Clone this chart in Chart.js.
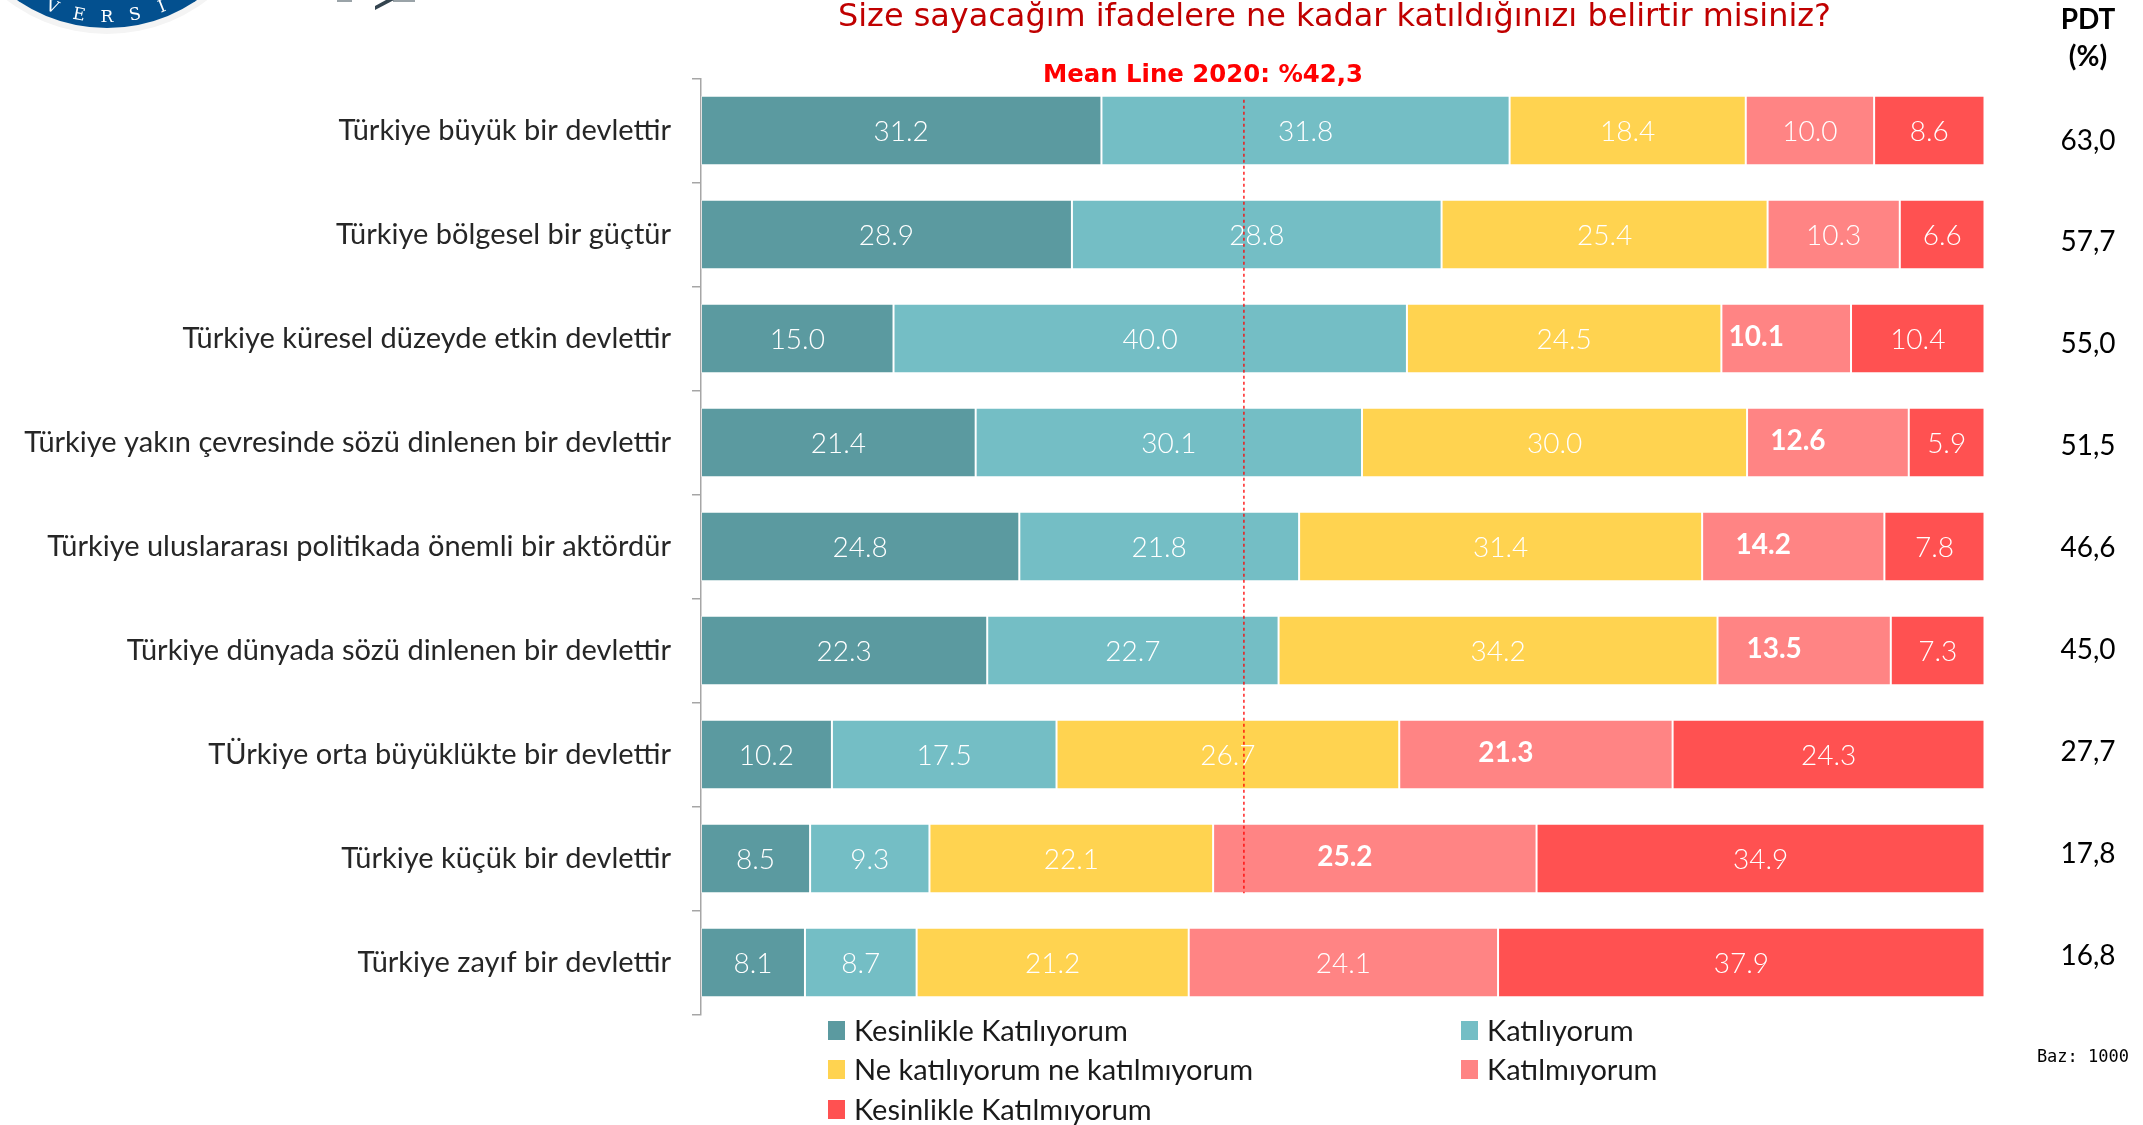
<!DOCTYPE html>
<html>
<head>
<meta charset="utf-8">
<script src="https://cdn.jsdelivr.net/npm/chart.js@4.4.0/dist/chart.umd.min.js"></script>
<style>
  html, body { margin: 0; padding: 0; background: #fff; }
  canvas { display: block; }
</style>
</head>
<body>
<canvas id="chart_1" width="2143" height="1125"></canvas>
<script>
const categories = [
  'Türkiye büyük bir devlettir',
  'Türkiye bölgesel bir güçtür',
  'Türkiye küresel düzeyde etkin devlettir',
  'Türkiye yakın çevresinde sözü dinlenen bir devlettir',
  'Türkiye uluslararası politikada önemli bir aktördür',
  'Türkiye dünyada sözü dinlenen bir devlettir',
  'TÜrkiye orta büyüklükte bir devlettir',
  'Türkiye küçük bir devlettir',
  'Türkiye zayıf bir devlettir'
];
const seriesLabels = [
  'Kesinlikle Katılıyorum',
  'Katılıyorum',
  'Ne katılıyorum ne katılmıyorum',
  'Katılmıyorum',
  'Kesinlikle Katılmıyorum'
];
const kesinlikleKatiliyorum = [31.2, 28.9, 15.0, 21.4, 24.8, 22.3, 10.2, 8.5, 8.1];
const katiliyorum = [31.8, 28.8, 40.0, 30.1, 21.8, 22.7, 17.5, 9.3, 8.7];
const neKatiliyorum = [18.4, 25.4, 24.5, 30.0, 31.4, 34.2, 26.7, 22.1, 21.2];
const katilmiyorum = [10.0, 10.3, 10.1, 12.6, 14.2, 13.5, 21.3, 25.2, 24.1];
const kesinlikleKatilmiyorum = [8.6, 6.6, 10.4, 5.9, 7.8, 7.3, 24.3, 34.9, 37.9];
const pdtValues = ['63,0', '57,7', '55,0', '51,5', '46,6', '45,0', '27,7', '17,8', '16,8'];
const meanValue = 42.3;
const meanLabel = 'Mean Line 2020: %42,3';
const titleText = 'Size sayacağım ifadelere ne kadar katıldığınızı belirtir misiniz?';
const bazText = 'Baz: 1000';

const colors = ['#5B9AA0', '#74BEC5', '#FFD350', '#FF8484', '#FF5151'];
const FONT = 'Lato, "Open Sans", sans-serif';

// draws text squeezed/stretched to a given width
function fitText(ctx, text, x, y, width, font, color) {
  ctx.save();
  ctx.font = font;
  ctx.fillStyle = color;
  ctx.textAlign = 'left';
  ctx.textBaseline = 'alphabetic';
  const w = ctx.measureText(text).width;
  ctx.translate(x, y);
  ctx.scale(width / w, 1);
  ctx.fillText(text, 0, 0);
  ctx.restore();
}

const pagePlugin = {
  id: 'page',
  beforeDraw(chart) {
    const ctx = chart.ctx;
    ctx.save();
    ctx.fillStyle = '#fff';
    ctx.fillRect(0, 0, chart.width, chart.height);

    // university seal, cut by the top edge
    const cx = 107, cy = -131;
    ctx.beginPath();
    ctx.arc(cx, cy, 165, 0, Math.PI * 2);
    ctx.fillStyle = '#f4f4f4';
    ctx.fill();
    ctx.beginPath();
    ctx.arc(cx, cy, 159, 0, Math.PI * 2);
    ctx.fillStyle = '#03508F';
    ctx.fill();
    const word = 'UNIVERSITY';
    ctx.fillStyle = '#fff';
    ctx.font = '17px "DejaVu Serif", serif';
    ctx.textAlign = 'center';
    ctx.textBaseline = 'middle';
    for (let i = 0; i < word.length; i++) {
      const th = (5 - i) * 0.19;
      const x = cx - 149 * Math.sin(th);
      const y = cy + 149 * Math.cos(th);
      ctx.save();
      ctx.translate(x, y);
      ctx.rotate(th);
      ctx.fillText(word[i], 0, 0);
      ctx.restore();
    }
    // second logo fragment
    ctx.fillStyle = '#9aa3a8';
    ctx.fillRect(337, 0, 15, 2);
    ctx.fillRect(393, 0, 22, 2);
    ctx.fillStyle = '#34444f';
    ctx.beginPath();
    ctx.moveTo(375, 6); ctx.lineTo(386, 0); ctx.lineTo(394, 0); ctx.lineTo(375, 10);
    ctx.closePath();
    ctx.fill();
    ctx.restore();
  },
  afterDatasetsDraw(chart) {
    const ctx = chart.ctx;
    const xs = chart.scales.x;

    // values inside the segments
    ctx.save();
    ctx.fillStyle = '#fff';
    ctx.textAlign = 'center';
    ctx.textBaseline = 'middle';
    chart.data.datasets.forEach((ds, di) => {
      chart.getDatasetMeta(di).data.forEach((bar, i) => {
        const bold = di === 3 && i >= 2 && i <= 7;
        ctx.font = (bold ? '700 ' : '300 ') + '28px ' + FONT;
        const cxm = (bar.x + bar.base) / 2 + (bold ? -30 : 0);
        ctx.fillText(ds.data[i].toFixed(1), cxm, bar.y + (bold ? -2 : 1));
      });
    });
    ctx.restore();

    // mean line
    const bars = chart.getDatasetMeta(0).data;
    const mx = xs.getPixelForValue(meanValue);
    ctx.save();
    ctx.strokeStyle = '#FF0000';
    ctx.lineWidth = 1.3;
    ctx.setLineDash([3, 3]);
    ctx.beginPath();
    ctx.moveTo(mx, bars[0].y - bars[0].height / 2 + 4);
    ctx.lineTo(mx, bars[7].y + bars[7].height / 2);
    ctx.stroke();
    ctx.restore();
  },
  afterDraw(chart) {
    const ctx = chart.ctx;
    const bars = chart.getDatasetMeta(0).data;

    fitText(ctx, titleText, 838, 26, 993, '32px "DejaVu Sans", sans-serif', '#C00000');
    fitText(ctx, meanLabel, 1043, 82, 320, 'bold 24px "DejaVu Sans", sans-serif', '#FF0000');

    ctx.save();
    ctx.fillStyle = '#000';
    ctx.textAlign = 'center';
    ctx.textBaseline = 'alphabetic';
    ctx.font = 'bold 28px ' + FONT;
    ctx.fillText('PDT', 2088, 29);
    ctx.fillText('(%)', 2088, 66);
    ctx.font = '28px ' + FONT;
    ctx.textBaseline = 'middle';
    const first = bars[0].y + 10, last = bars[8].y - 7;
    pdtValues.forEach((v, i) => {
      ctx.fillText(v, 2088, first + i * (last - first) / (pdtValues.length - 1));
    });

    // legend, two columns
    const colX = [828, 1461], rowY = [1031, 1070, 1110];
    chart.data.datasets.forEach((ds, i) => {
      const x = colX[i % 2], y = rowY[Math.floor(i / 2)];
      ctx.fillStyle = ds.backgroundColor;
      ctx.fillRect(x, y - 10, 17, 19);
      ctx.fillStyle = '#1a1a1a';
      ctx.font = '29px ' + FONT;
      ctx.textAlign = 'left';
      ctx.fillText(ds.label, x + 26, y + 1);
    });

    ctx.font = '17px "DejaVu Sans Mono", monospace';
    ctx.fillStyle = '#000';
    ctx.textAlign = 'right';
    ctx.fillText(bazText, 2129, 1058);
    ctx.restore();
  }
};

const seriesData = [kesinlikleKatiliyorum, katiliyorum, neKatiliyorum, katilmiyorum, kesinlikleKatilmiyorum];

new Chart(document.getElementById('chart_1'), {
  type: 'bar',
  data: {
    labels: categories,
    datasets: seriesData.map((d, i) => ({
      label: seriesLabels[i],
      data: d,
      backgroundColor: colors[i],
      borderColor: 'rgba(255,255,255,0.35)',
      borderWidth: 1,
      borderSkipped: false,
      categoryPercentage: 1,
      barPercentage: 0.67
    }))
  },
  options: {
    indexAxis: 'y',
    responsive: false,
    animation: false,
    devicePixelRatio: 1,
    layout: { padding: { left: 0, right: 158.5, top: 78.5, bottom: 110.5 } },
    plugins: {
      legend: { display: false },
      title: { display: false },
      tooltip: { enabled: false }
    },
    scales: {
      x: { stacked: true, min: 0, max: 100, display: false },
      y: {
        stacked: true,
        afterFit(scale) { scale.width = 701; },
        grid: {
          offset: true,
          drawOnChartArea: false,
          drawTicks: true,
          tickLength: 9,
          color: '#A6A6A6',
          lineWidth: 1.5
        },
        border: { display: true, color: '#A6A6A6', width: 1.5 },
        ticks: {
          color: '#262626',
          padding: 21,
          font: { family: FONT, size: 29 }
        }
      }
    }
  },
  plugins: [pagePlugin]
});
</script>
</body>
</html>
